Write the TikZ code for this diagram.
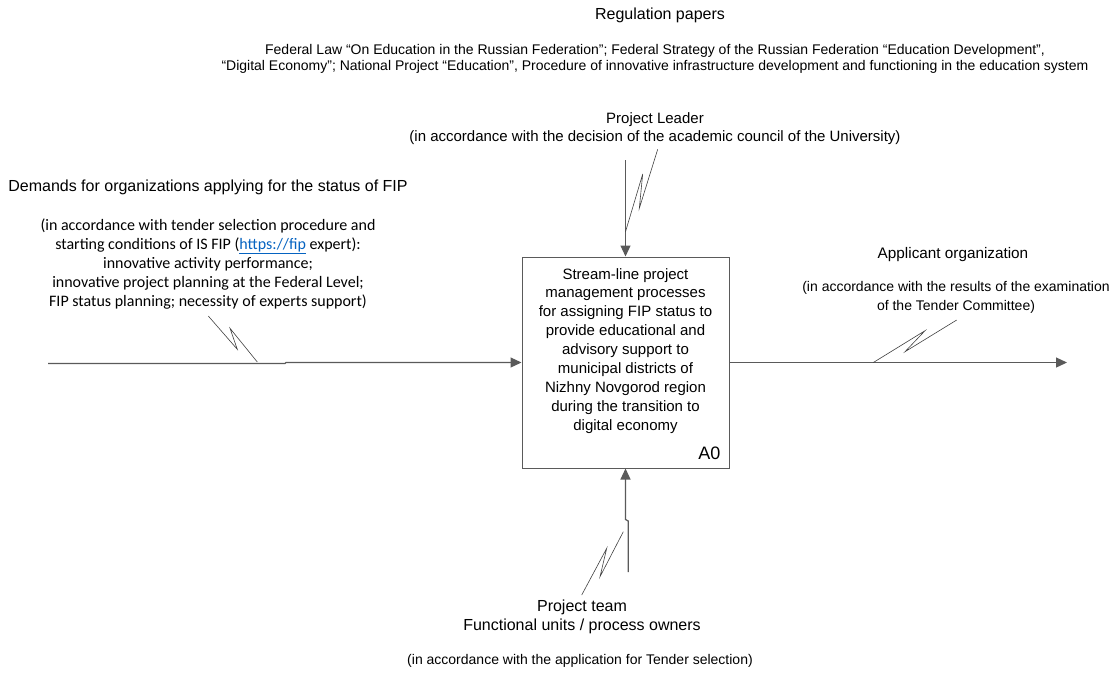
\documentclass[tikz,border=0pt]{standalone}
\usepackage{fontspec}
\setmainfont{Liberation Sans}
\newfontfamily\calibri{Carlito}
\usetikzlibrary{arrows.meta}
\definecolor{linkblue}{HTML}{0563C1}
\definecolor{linegray}{HTML}{5A5A5A}

\begin{document}
\begin{tikzpicture}[x=1pt,y=-1pt,
  flow/.style={draw=linegray, line width=1.2pt, -{Triangle[length=11pt,width=10pt]}},
  squig/.style={draw=black!75, line width=0.6pt},
  fnbox/.style={draw=linegray, line width=1pt, minimum width=207pt, minimum height=211pt, inner sep=0pt},
  lbl/.style={font=\fontsize{15}{18}\selectfont, align=center, inner sep=0pt},
  head/.style={lbl, font=\fontsize{16}{19}\selectfont},
  note/.style={font=\fontsize{14}{19}\selectfont, align=center, inner sep=0pt}]
\useasboundingbox (0,0) rectangle (1115,673);
%----------function box A0---------------------
\node[fnbox] (a0) at (625.5,362.5) {};
\node[lbl, font=\fontsize{15}{18.9}\selectfont, anchor=north] (a0txt) at (625.5,268)
  {Stream-line project\\ management processes\\ for assigning FIP status to\\ provide educational and\\
   advisory support to\\ municipal districts of\\ Nizhny Novgorod region\\ during the transition to\\ digital economy};
\node[font=\fontsize{18}{18}\selectfont, anchor=base east, inner sep=0pt] (a0id) at ([shift={(-9,-9)}]a0.south east) {A0};
%----------controls----------------------------
\node[head] (reg) at (660,15) {Regulation papers};
\node[lbl, font=\fontsize{14}{16}\selectfont] (laws) at (655,59)
  {Federal Law “On Education in the Russian Federation”; Federal Strategy of the Russian Federation “Education Development”,\\
   “Digital Economy”; National Project “Education”, Procedure of innovative infrastructure development and functioning in the education system};
\node[lbl] (leader) at (655,129) {Project Leader\\ (in accordance with the decision of the academic council of the University)};
%----------input-------------------------------
\node[head] (dem) at (208,187) {Demands for organizations applying for the status of FIP};
\node[lbl, font=\calibri\fontsize{16}{19}\selectfont] (demnote) at (208,264)
  {(in accordance with tender selection procedure and\\ starting conditions of IS FIP (\textcolor{linkblue}{\underline{https://fip}} expert):\\
   innovative activity performance;\\ innovative project planning at the Federal Level;\\ FIP status planning; necessity of experts support)};
%----------output------------------------------
\node[lbl, font=\fontsize{15.3}{18}\selectfont] (app) at (953,255) {Applicant organization};
\node[note] (appnote) at (956,297) {(in accordance with the results of the examination\\ of the Tender Committee)};
%----------mechanism---------------------------
\node[head] (team) at (582,616.5) {Project team\\ Functional units / process owners};
\node[note] (teamnote) at (580,661) {(in accordance with the application for Tender selection)};
%----------arrows------------------------------
\coordinate (inp) at (48,363.5);
\coordinate (outp) at (1067,362.5);
\coordinate (ctl) at (625.5,160);
\coordinate (mech) at (628.3,572);
\draw[flow] (inp) -- ++(237,0) -- ++(1,-1) -- (a0.west);
\draw[flow] (a0.east) -- (outp);
\draw[flow] (ctl) -- (a0.north);
\draw[flow] (mech) -- ++(0,-51) -- ++(-2.8,-1.5) -- (a0.south);
%----------squiggles---------------------------
\draw[squig] (625.5,231.7) -- (642.7,174) -- (639.3,208.3) -- (657.7,149.3);
\draw[squig] (257.3,362) -- (230,328.3) -- (237.3,349.3) -- (208.3,316);
\draw[squig] (873.3,362.5) -- (925,330.7) -- (905,351.7) -- (956.7,320);
\draw[squig] (623.3,531.7) -- (600,576.7) -- (606.7,548.3) -- (581.7,595);
\end{tikzpicture}
\end{document}
